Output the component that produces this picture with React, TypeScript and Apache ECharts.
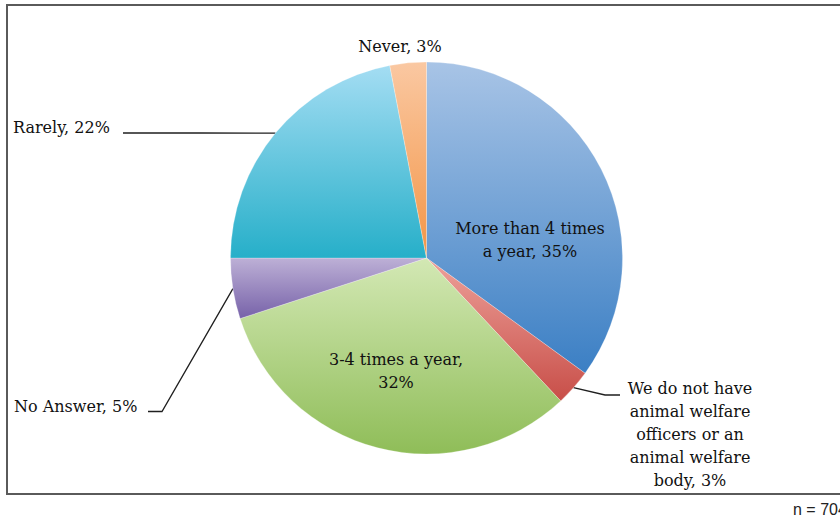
import React, { useEffect, useRef } from "react";
import * as echarts from "echarts";

// ---- data ----
const categories = [
  "More than 4 times a year",
  "We do not have animal welfare officers or an animal welfare body",
  "3-4 times a year",
  "No Answer",
  "Rarely",
  "Never",
];
const values = [35, 3, 32, 5, 22, 3];
// wrapped display names and separator between name and value
const wrappedNames = [
  "More than 4 times\na year",
  "We do not have\nanimal welfare\nofficers or an\nanimal welfare\nbody",
  "3-4 times a year",
  "No Answer",
  "Rarely",
  "Never",
];
const nameValueSep = [", ", ", ", ",\n", ", ", ", ", ", "];
const footnote = "n = 704";

// ---- styles ----
const gradients: [string, string][] = [
  ["#a8c4e6", "#3b7fc4"],
  ["#eda19a", "#c84e48"],
  ["#d3e8b4", "#8fbd58"],
  ["#bdb0d6", "#7762a9"],
  ["#a4ddf3", "#26afc9"],
  ["#fac8a2", "#f39546"],
];
const showLine = [false, true, false, true, true, false];
const labelPos: { x: number; y: number; align: string; line?: number[][] }[] = [
  { x: 530, y: 239.5, align: "center" },
  { x: 690, y: 434, align: "center", line: [[605, 395], [620, 395]] },
  { x: 396, y: 371, align: "center" },
  { x: 14, y: 406.5, align: "left", line: [[162, 411.5], [148, 411.5]] },
  { x: 13, y: 127.5, align: "left", line: [[200, 133], [123, 133]] },
  { x: 400, y: 46.5, align: "center" },
];

export default function App() {
  const ref = useRef<HTMLDivElement>(null);
  useEffect(() => {
    if (!ref.current) return;
    const chart = echarts.init(ref.current, undefined, { renderer: "svg" });
    const data = values.map((v, i) => ({
      value: v,
      name: categories[i],
      itemStyle: {
        color: new echarts.graphic.LinearGradient(0, 0, 0, 1, [
          { offset: 0, color: gradients[i][0] },
          { offset: 1, color: gradients[i][1] },
        ]),
      },
      labelLine: { show: showLine[i] },
    }));
    chart.setOption({
      animation: false,
      backgroundColor: "#ffffff",
      graphic: [
        {
          type: "rect",
          shape: { x: 7, y: 5, width: 900, height: 489 },
          style: { fill: "none", stroke: "#5a5a5a", lineWidth: 2 },
          z: 10,
        },
        {
          type: "text",
          x: 793,
          y: 509,
          style: {
            text: footnote,
            fill: "#222",
            font: "16px 'Liberation Sans', Arial, sans-serif",
            verticalAlign: "middle",
          },
        },
      ],
      series: [
        {
          type: "pie",
          center: [426.5, 258],
          radius: 196,
          startAngle: 90,
          clockwise: true,
          avoidLabelOverlap: false,
          minShowLabelAngle: 0,
          itemStyle: { borderColor: "rgba(255,255,255,0.5)", borderWidth: 0.5 },
          label: {
            show: true,
            position: "outside",
            fontFamily: "'DejaVu Serif', serif",
            fontSize: 16,
            lineHeight: 23,
            color: "#111111",
            formatter: (p: any) =>
              wrappedNames[p.dataIndex] + nameValueSep[p.dataIndex] + p.value + "%",
          },
          labelLine: {
            show: true,
            length: 10,
            length2: 10,
            lineStyle: { color: "#1f1f1f", width: 1.3 },
          },
          labelLayout: (params: any) => {
            const p = labelPos[params.dataIndex];
            const res: any = {
              x: p.x,
              y: p.y,
              align: p.align,
              verticalAlign: "middle",
            };
            if (p.line && params.labelLinePoints) {
              res.labelLinePoints = [params.labelLinePoints[0], ...p.line];
            }
            return res;
          },
          data,
        },
      ],
    });
    return () => chart.dispose();
  }, []);
  return (
    <div
      ref={ref}
      style={{ position: "absolute", left: 0, top: 0, width: 840, height: 518 }}
    />
  );
}
